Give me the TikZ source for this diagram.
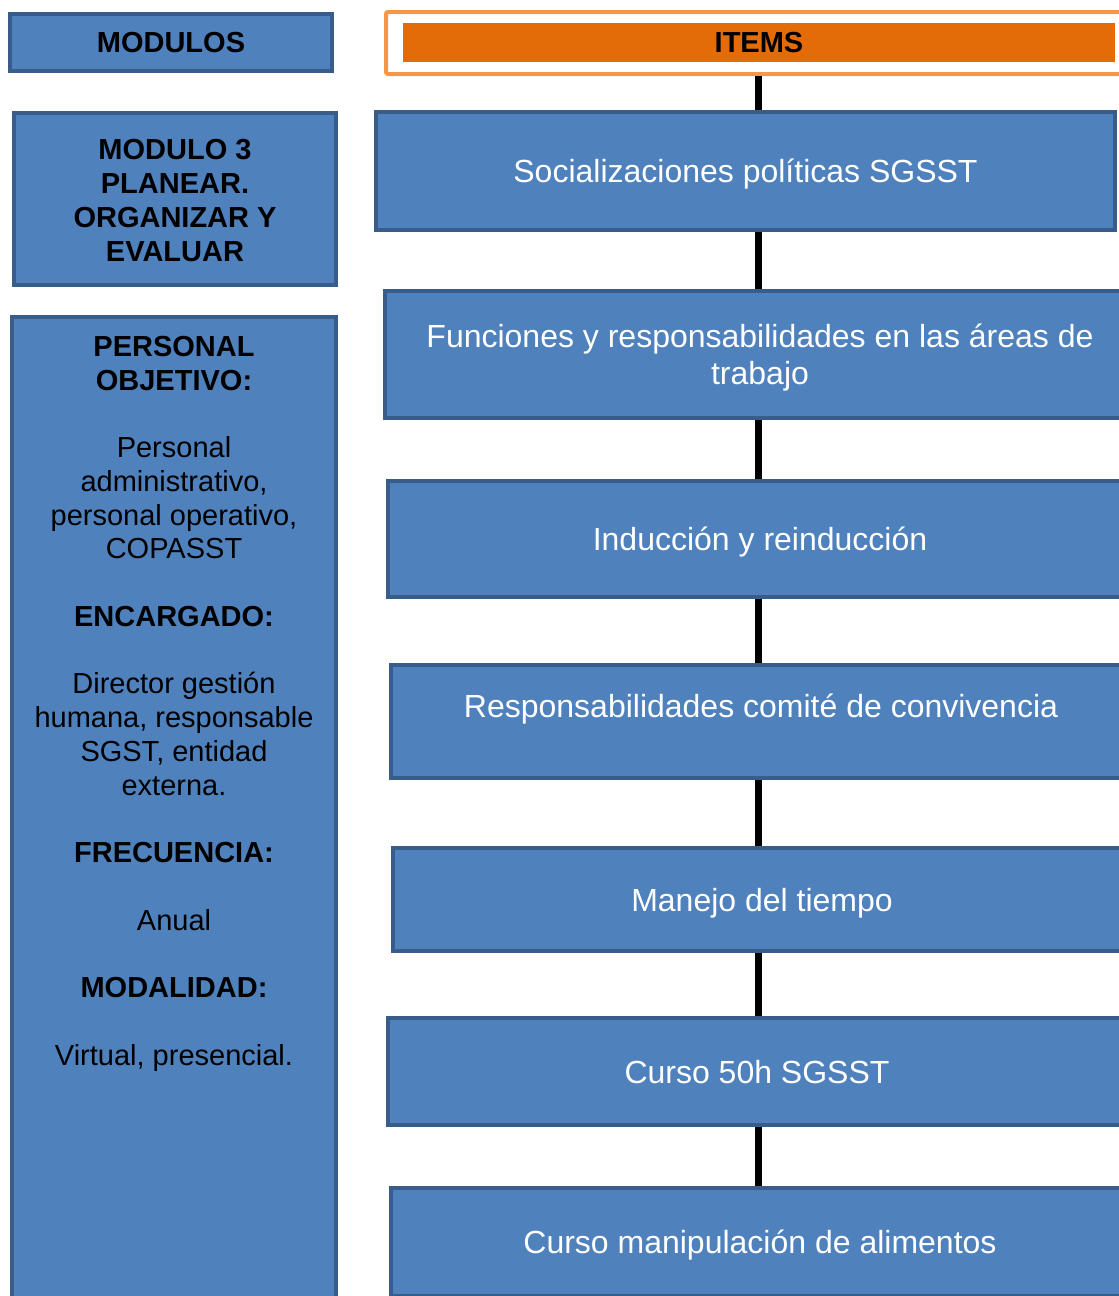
\documentclass[tikz,border=0pt]{standalone}
\usepackage{fontspec}
\setmainfont{Liberation Sans}
\definecolor{boxfill}{HTML}{4F81BD}
\definecolor{boxline}{HTML}{385D8A}
\definecolor{headfill}{HTML}{E36C09}
\definecolor{headline}{HTML}{F79646}

\begin{document}
\begin{tikzpicture}[x=1pt, y=-1pt,
    modbox/.style={rectangle, draw=boxline, fill=boxfill, line width=4pt, inner sep=0pt, align=center, font=\bfseries\fontsize{29}{34}\selectfont},
    itembox/.style={rectangle, draw=boxline, fill=boxfill, line width=4pt, inner sep=0pt, align=center, text=white, font=\fontsize{32}{37}\selectfont, text height=29pt, text depth=6pt},
    spine/.style={line width=7pt, black}]
      \useasboundingbox (0,0) rectangle (1119,1296);
      \clip (0,0) rectangle (1119,1296);

      \node[modbox, minimum width=322pt, minimum height=57pt] (modulos) at (171,42.5) {MODULOS};
      \node[modbox, minimum width=322pt, minimum height=172pt] (modulo3) at (175,199) {};
      \node[inner sep=0pt, align=center, font=\bfseries\fontsize{29}{34}\selectfont] (mod3txt) at (175,201) {MODULO 3\\PLANEAR.\\ORGANIZAR Y\\EVALUAR};
      \node[modbox, minimum width=324pt, minimum height=1003pt] (personal) at (174,818.5) {};
      \node[anchor=north, inner sep=0pt, align=center, font=\fontsize{29}{33.75}\selectfont] (perstxt) at (174,336)
        {\textbf{PERSONAL}\\\textbf{OBJETIVO:}\\[33.75pt]Personal\\administrativo,\\personal operativo,\\COPASST\\[33.75pt]\textbf{ENCARGADO:}\\[33.75pt]Director gestión\\humana, responsable\\SGST, entidad\\externa.\\[33.75pt]\textbf{FRECUENCIA:}\\[33.75pt]Anual\\[33.75pt]\textbf{MODALIDAD:}\\[33.75pt]Virtual, presencial.};

      \node[rectangle, draw=headline, fill=white, line width=4pt, rounded corners=2pt, minimum width=744pt, minimum height=62pt] (items) at (758,43) {};
      \node[rectangle, fill=headfill, minimum width=712pt, minimum height=39pt, inner sep=0pt, font=\bfseries\fontsize{29}{34}\selectfont] (itemshead) at (759,42.5) {ITEMS};

      \node[itembox, minimum width=739pt, minimum height=118pt] (it1) at (745.5,171) {Socializaciones políticas SGSST};
      \node[itembox, minimum width=750pt, minimum height=127pt, text height=66pt] (it2) at (760,354.5) {Funciones y responsabilidades en las áreas de\\trabajo};
      \node[itembox, minimum width=744pt, minimum height=116pt] (it3) at (760,539) {Inducción y reinducción};
      \node[itembox, minimum width=740pt, minimum height=113pt, text height=4pt, text depth=13pt] (it4) at (761,721.5) {Responsabilidades comité de convivencia};
      \node[itembox, minimum width=738pt, minimum height=103pt] (it5) at (762,899.5) {Manejo del tiempo};
      \node[itembox, minimum width=738pt, minimum height=107pt] (it6) at (757,1071.5) {Curso 50h SGSST};
      \node[itembox, minimum width=738pt, minimum height=108pt] (it7) at (760,1242) {Curso manipulación de alimentos};

      \coordinate (axis) at (758,0);
      \draw[spine] (items.south -| axis) -- (it1.north -| axis);
      \draw[spine] (it1.south -| axis) -- (it2.north -| axis);
      \draw[spine] (it2.south -| axis) -- (it3.north -| axis);
      \draw[spine] (it3.south -| axis) -- (it4.north -| axis);
      \draw[spine] (it4.south -| axis) -- (it5.north -| axis);
      \draw[spine] (it5.south -| axis) -- (it6.north -| axis);
      \draw[spine] (it6.south -| axis) -- (it7.north -| axis);
    \end{tikzpicture}
\end{document}
